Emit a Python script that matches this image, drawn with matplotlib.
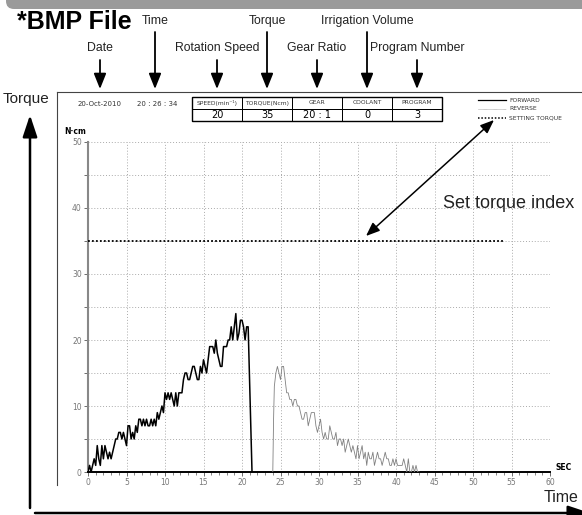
import matplotlib
matplotlib.use("Agg")
import matplotlib.pyplot as plt
import matplotlib.ticker as mticker
from matplotlib.patches import FancyBboxPatch, Rectangle

# ===== 1. Data =====
fwd_t = [
    0.0, 0.2, 0.4, 0.6, 0.8, 1.0, 1.2, 1.4, 1.6, 1.8,
    2.0, 2.2, 2.4, 2.6, 2.8, 3.0, 3.2, 3.4, 3.6, 3.8,
    4.0, 4.2, 4.4, 4.6, 4.8, 5.0, 5.2, 5.4, 5.6, 5.8,
    6.0, 6.2, 6.4, 6.6, 6.8, 7.0, 7.2, 7.4, 7.6, 7.8,
    8.0, 8.2, 8.4, 8.6, 8.8, 9.0, 9.2, 9.4, 9.6, 9.8,
    10.0, 10.2, 10.4, 10.6, 10.8, 11.0, 11.2, 11.4, 11.6, 11.8,
    12.0, 12.2, 12.4, 12.6, 12.8, 13.0, 13.2, 13.4, 13.6, 13.8,
    14.0, 14.2, 14.4, 14.6, 14.8, 15.0, 15.2, 15.4, 15.6, 15.8,
    16.0, 16.2, 16.4, 16.6, 16.8, 17.0, 17.2, 17.4, 17.6, 17.8,
    18.0, 18.2, 18.4, 18.6, 18.8, 19.0, 19.2, 19.4, 19.6, 19.8,
    20.0, 20.2, 20.4, 20.6, 20.8, 21.3,
]
fwd_v = [
    0, 1, 0, 1, 2, 1, 4, 2, 1, 4,
    2, 4, 3, 2, 3, 2, 3, 4, 5, 5,
    6, 6, 5, 6, 5, 4, 7, 7, 5, 6,
    5, 7, 6, 8, 8, 7, 8, 7, 8, 7,
    7, 8, 7, 8, 7, 9, 8, 9, 10, 9,
    12, 11, 12, 11, 12, 11, 10, 12, 10, 12,
    12, 12, 14, 15, 15, 14, 14, 15, 16, 16,
    15, 14, 14, 16, 15, 17, 16, 15, 17, 19,
    19, 19, 18, 20, 18, 17, 16, 16, 19, 19,
    19, 20, 20, 22, 20, 22, 24, 20, 21, 23,
    23, 22, 20, 22, 22, 0,
]

rev_t = [
    24.0, 24.1, 24.2, 24.4, 24.6, 24.8, 25.0, 25.2, 25.4, 25.6,
    25.8, 26.0, 26.2, 26.4, 26.6, 26.8, 27.0, 27.2, 27.4, 27.6,
    27.8, 28.0, 28.2, 28.4, 28.6, 28.8, 29.0, 29.2, 29.4, 29.6,
    29.8, 30.0, 30.2, 30.4, 30.6, 30.8, 31.0, 31.2, 31.4, 31.6,
    31.8, 32.0, 32.2, 32.4, 32.6, 32.8, 33.0, 33.2, 33.4, 33.6,
    33.8, 34.0, 34.2, 34.4, 34.6, 34.8, 35.0, 35.2, 35.4, 35.6,
    35.8, 36.0, 36.2, 36.4, 36.6, 36.8, 37.0, 37.2, 37.4, 37.6,
    37.8, 38.0, 38.2, 38.4, 38.6, 38.8, 39.0, 39.2, 39.4, 39.6,
    39.8, 40.0, 40.2, 40.4, 40.6, 40.8, 41.0, 41.2, 41.4, 41.6,
    41.8, 42.0, 42.2, 42.4, 42.6, 42.8, 43.0,
]
rev_v = [
    0, 8, 13, 15, 16, 15, 14, 16, 16, 14,
    12, 12, 11, 11, 10, 11, 11, 10, 10, 9,
    8, 8, 9, 9, 7, 8, 9, 9, 9, 7,
    6, 7, 8, 6, 5, 6, 5, 5, 7, 6,
    5, 5, 6, 4, 5, 5, 4, 5, 3, 4,
    5, 4, 3, 4, 3, 2, 4, 2, 3, 4,
    2, 3, 1, 3, 2, 2, 3, 1, 2, 3,
    2, 2, 1, 2, 3, 2, 2, 1, 1, 2,
    1, 2, 1, 1, 1, 1, 2, 1, 0, 2,
    0, 0, 1, 0, 1, 0, 0,
]

set_torque = 35
set_torque_span = [0, 54]

date_text = "20-Oct-2010"
time_text = "20 : 26 : 34"
table_headers = ["SPEED(min\u207b\u00b9)", "TORQUE(Ncm)", "GEAR", "COOLANT", "PROGRAM"]
table_values = ["20", "35", "20 : 1", "0", "3"]
legend_labels = ["FORWARD", "REVERSE", "SETTING TORQUE"]

# callouts: text, arrow x (pixels), row (0 = top, 1 = lower)
callouts = [
    ("Date", 100, 1),
    ("Time", 155, 0),
    ("Rotation Speed", 217, 1),
    ("Torque", 267, 0),
    ("Gear Ratio", 317, 1),
    ("Irrigation Volume", 367, 0),
    ("Program Number", 417, 1),
]

# ===== 2. Style =====
label_font = ["Liberation Sans", "DejaVu Sans"]
plain = ["DejaVu Sans"]

fig = plt.figure(figsize=(5.82, 5.15), dpi=100)
fig.patch.set_facecolor("white")

# ===== 3. Torque plot =====
ax = fig.add_axes([88 / 582, 43 / 515, 462 / 582, 330 / 515])
ax.plot(rev_t, rev_v, color="#808080", linewidth=0.6, zorder=3)
ax.plot(fwd_t, fwd_v, color="black", linewidth=1.1, zorder=4)
ax.plot(set_torque_span, [set_torque, set_torque], color="black",
        linestyle=(0, (1, 1.2)), linewidth=1.3, zorder=4)

ax.set_xlim(0, 60)
ax.set_ylim(0, 50)
ax.xaxis.set_major_locator(mticker.MultipleLocator(5))
ax.xaxis.set_minor_locator(mticker.MultipleLocator(1))
ax.yaxis.set_major_locator(mticker.MultipleLocator(5))
ax.yaxis.set_major_formatter(
    mticker.FuncFormatter(lambda v, p: f"{v:.0f}" if v % 10 == 0 else ""))
ax.grid(True, which="major", color="#aaaaaa", linestyle=(0, (1, 2)), linewidth=0.7)
ax.tick_params(axis="both", which="major", labelsize=5.5, labelcolor="#777777",
               length=3, width=0.6, color="#555555", pad=1.5)
ax.tick_params(axis="x", which="minor", length=2, width=0.5, color="#555555")
for lab in ax.get_xticklabels() + ax.get_yticklabels():
    lab.set_family(plain)

for side in ["top", "right"]:
    ax.spines[side].set_visible(False)
ax.spines["left"].set_color("#888888")
ax.spines["left"].set_linewidth(1.5)
ax.spines["bottom"].set_color("black")
ax.spines["bottom"].set_linewidth(1.4)

# ===== 4. Overlay in pixel coordinates =====
ov = fig.add_axes([0, 0, 1, 1], zorder=5)
ov.set_xlim(0, 582)
ov.set_ylim(515, 0)
ov.axis("off")

# grey banner at the very top
ov.add_patch(FancyBboxPatch((6, -10), 600, 19, boxstyle="round,pad=0,rounding_size=8",
                            facecolor="#9a9a9a", edgecolor="none", clip_on=False))

ov.text(17, 22, "*BMP File", fontsize=18, fontweight="bold", family=label_font,
        ha="left", va="center")

for label, x, row in callouts:
    ty = 21 if row == 0 else 48
    y0 = 32 if row == 0 else 60
    ov.text(x, ty, label, fontsize=8.8, family=label_font, ha="center", va="center",
            color="#222222")
    ov.annotate("", xy=(x, 89), xytext=(x, y0),
                arrowprops=dict(arrowstyle="-|>,head_length=0.55,head_width=0.22",
                                mutation_scale=17, color="black", lw=1.3,
                                shrinkA=0, shrinkB=0))

# screen frame
ov.plot([57, 590], [92, 92], color="#444444", lw=0.8, clip_on=False)
ov.plot([57, 57], [92, 485], color="#444444", lw=0.8)

# date / time
ov.text(100, 104, date_text, fontsize=5, family=plain, ha="center", va="center",
        color="#333333")
ov.text(157, 104, time_text, fontsize=5, family=plain, ha="center", va="center",
        color="#333333")

# info table
tx0, tw, ty0, th = 192, 50, 97, 12
for i, (hdr, val) in enumerate(zip(table_headers, table_values)):
    x = tx0 + i * tw
    ov.add_patch(Rectangle((x, ty0), tw, th, fill=False, edgecolor="black", lw=0.7))
    ov.add_patch(Rectangle((x, ty0 + th), tw, th, fill=False, edgecolor="black", lw=0.7))
    ov.text(x + tw / 2, ty0 + th / 2, hdr, fontsize=4.3, family=plain,
            ha="center", va="center", color="#333333")
    ov.text(x + tw / 2, ty0 + th * 1.5 + 0.5, val, fontsize=7, family=plain,
            ha="center", va="center", color="black")
ov.add_patch(Rectangle((tx0, ty0), tw * 5, th * 2, fill=False, edgecolor="black", lw=1.0))

# legend
ov.plot([478, 506], [100, 100], color="black", lw=0.9)
ov.plot([478, 506], [109, 109], color="#999999", lw=0.5, linestyle=(0, (1, 0.6)))
ov.plot([478, 506], [118, 118], color="black", lw=1.1, linestyle=(0, (1, 1.2)))
for yy, lab in zip([100, 109, 118], legend_labels):
    ov.text(509, yy, lab, fontsize=4.3, family=plain, ha="left", va="center",
            color="#333333")

# axis captions
ov.text(75, 131, "N\u00b7cm", fontsize=5.5, fontweight="bold", family=plain,
        ha="center", va="center")
ov.text(555, 467, "SEC", fontsize=5.5, fontweight="bold", family=plain,
        ha="left", va="center")

# set torque index callout
ov.text(509, 204, "Set torque index", fontsize=13, family=label_font, ha="center",
        va="center", color="#222222")
ov.annotate("", xy=(366, 236), xytext=(494, 120),
            arrowprops=dict(arrowstyle="<|-|>,head_length=0.55,head_width=0.22",
                            mutation_scale=15, color="black", lw=1.1,
                            shrinkA=0, shrinkB=0))

# big axis arrows
ov.text(26, 99, "Torque", fontsize=11, family=label_font, ha="center", va="center",
        color="#222222")
ov.annotate("", xy=(30, 115), xytext=(30, 508),
            arrowprops=dict(arrowstyle="-|>,head_length=0.6,head_width=0.2",
                            mutation_scale=22, color="black", lw=1.8,
                            shrinkA=0, shrinkB=0))
ov.text(561, 497, "Time", fontsize=11.5, family=label_font, ha="center", va="center",
        color="#222222")
ov.annotate("", xy=(590, 513), xytext=(35, 513),
            arrowprops=dict(arrowstyle="-|>,head_length=0.6,head_width=0.2",
                            mutation_scale=22, color="black", lw=1.8,
                            shrinkA=0, shrinkB=0), annotation_clip=False)

fig.savefig("out.png", dpi=100, facecolor="white")
